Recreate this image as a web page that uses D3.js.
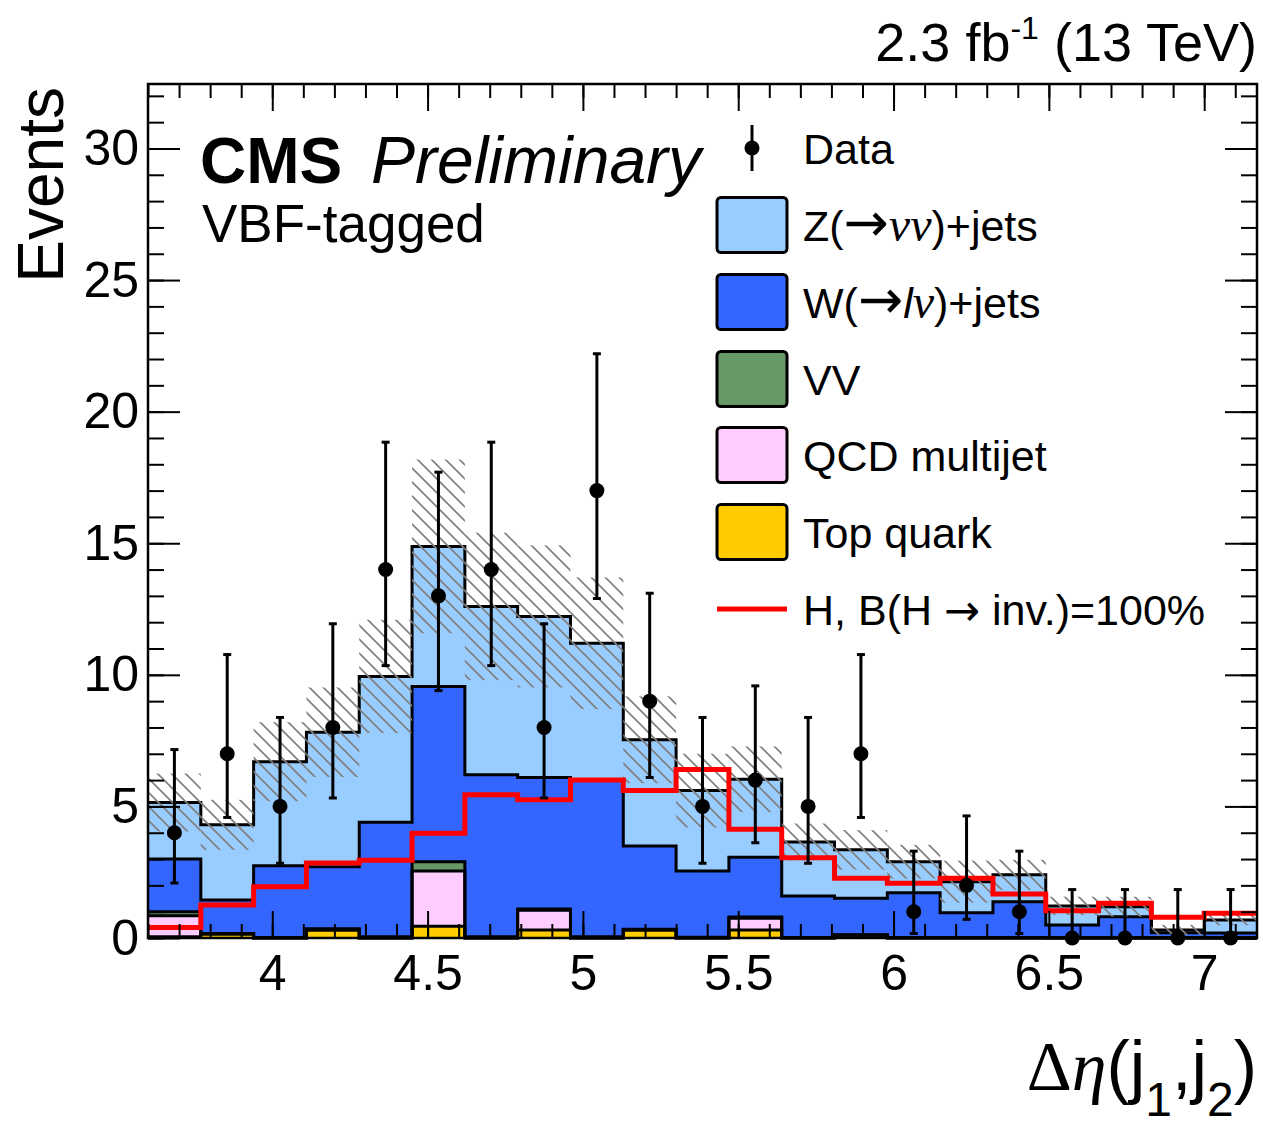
<!DOCTYPE html>
<html>
<head>
<meta charset="utf-8">
<script src="https://cdn.jsdelivr.net/npm/d3@7"></script>
<style>
  body { margin: 0; background: #fff; }
  text { font-family: "Liberation Sans", Arial, Helvetica, sans-serif; fill: #000; }
</style>
</head>
<body>
<div id="chart"></div>
<script>
// bin edges of delta eta(j1,j2)
const edges = [3.60, 3.77, 3.94, 4.11, 4.28, 4.45, 4.62, 4.79, 4.96, 5.13, 5.30,
  5.47, 5.64, 5.81, 5.98, 6.15, 6.32, 6.49, 6.66, 6.83, 7.00, 7.17];

// backgrounds, bottom of the stack first
const topQuark = [0.05, 0.15, 0, 0.3, 0, 0.45, 0, 0.3, 0, 0.3, 0, 0.3, 0, 0.1, 0, 0, 0, 0, 0, 0, 0];
const qcd = [0.8, 0, 0, 0, 0, 2.1, 0, 0.75, 0, 0, 0, 0.45, 0, 0, 0, 0, 0, 0, 0, 0, 0];
const vv = [0.15, 0.02, 0.02, 0.05, 0.05, 0.35, 0.05, 0.05, 0.05, 0.03, 0.03, 0.05, 0.02, 0.02, 0.02, 0.02, 0.02, 0.01, 0.01, 0.01, 0.01];
const wJets = [2.0, 1.27, 2.73, 2.36, 4.35, 6.66, 6.15, 5.0, 5.95, 3.17, 2.52, 2.27, 1.58, 1.39, 1.70, 0.94, 1.36, 0.48, 0.80, 0.19, 0.18];
const zJets = [2.15, 2.86, 3.95, 5.11, 5.54, 5.32, 6.4, 6.12, 5.2, 4.03, 3.05, 2.96, 2.05, 1.84, 1.18, 1.18, 1.02, 0.73, 0.38, 0.10, 0.49];
// total background uncertainty
const bkgUnc = [1.1, 0.95, 1.5, 1.7, 2.15, 3.3, 2.8, 2.7, 2.5, 1.65, 1.4, 1.25, 0.7, 0.75, 0.64, 0.8, 0.57, 0.35, 0.38, 0.2, 0.2];

// signal H -> inv
const signal = [0.4, 1.25, 1.95, 2.85, 2.95, 3.98, 5.44, 5.25, 6.0, 5.6, 6.4, 4.13, 3.05, 2.27, 2.08, 2.27, 1.67, 1.04, 1.32, 0.79, 0.94];

// data with error bar ends
const dataCounts = [4, 7, 5, 8, 14, 13, 14, 8, 17, 9, 5, 6, 5, 7, 1, 2, 1, 0, 0, 0, 0];
const dataLow = [2.09, 4.58, 2.84, 5.32, 10.35, 9.4, 10.35, 5.32, 12.9, 6.1, 2.84, 3.62, 2.84, 4.58, 0.17, 0.71, 0.17, 0, 0, 0, 0];
const dataHigh = [7.16, 10.77, 8.38, 11.94, 18.84, 17.7, 18.84, 11.94, 22.2, 13.1, 8.38, 9.58, 8.38, 10.77, 3.3, 4.64, 3.3, 1.84, 1.84, 1.84, 1.84];

const xTicks = [4, 4.5, 5, 5.5, 6, 6.5, 7];
const yTicks = [0, 5, 10, 15, 20, 25, 30];

const layers = [
  { key: "top", values: topQuark, color: "#ffcc00", label: "Top quark" },
  { key: "qcd", values: qcd, color: "#ffccff", label: "QCD multijet" },
  { key: "vv", values: vv, color: "#669966", label: "VV" },
  { key: "w", values: wJets, color: "#3366ff", label: "W" },
  { key: "z", values: zJets, color: "#99ccff", label: "Z" }
];

const width = 1263, height = 1129;
const pLeft = 148, pRight = 1257, pTop = 84, pBottom = 938;

const svg = d3.select("#chart").append("svg")
  .attr("width", width)
  .attr("height", height)
  .style("background", "#fff");

const defs = svg.append("defs");
defs.append("pattern")
  .attr("id", "hatch")
  .attr("patternUnits", "userSpaceOnUse")
  .attr("width", 14).attr("height", 14)
  .append("path")
  .attr("d", "M0,0 L14,14 M-7,7 L7,21 M7,-7 L21,7")
  .attr("stroke", "#808080")
  .attr("stroke-width", 1.7);

const x = d3.scaleLinear().domain([3.6, 7.17]).range([pLeft, pRight]);
const y = d3.scaleLinear().domain([0, 32.45]).range([pBottom, pTop]);

// build a table for d3.stack
const rows = edges.slice(0, -1).map((e, i) => {
  const r = { i };
  layers.forEach(l => r[l.key] = l.values[i]);
  return r;
});
const stacked = d3.stack().keys(layers.map(l => l.key))(rows);

// step points for a per-bin array
const stepPts = (vals) => vals.flatMap((v, i) => [[edges[i], v], [edges[i + 1], v]]);

const area = d3.area()
  .x(d => x(d.x))
  .y0(d => y(d.y0))
  .y1(d => y(d.y1));
const line = d3.line().x(d => x(d[0])).y(d => y(d[1]));

// fills
stacked.forEach((s, k) => {
  const pts = s.flatMap((d, i) => [
    { x: edges[i], y0: d[0], y1: d[1] },
    { x: edges[i + 1], y0: d[0], y1: d[1] }
  ]);
  svg.append("path")
    .attr("d", area(pts))
    .attr("fill", layers[k].color)
    .attr("stroke", "none");
});

// outlines of every stack level
stacked.forEach(s => {
  svg.append("path")
    .attr("d", line(stepPts(s.map(d => d[1]))))
    .attr("fill", "none")
    .attr("stroke", "#000")
    .attr("stroke-width", 3);
});

// uncertainty band
const totals = stacked[stacked.length - 1].map(d => d[1]);
svg.append("g").selectAll("rect")
  .data(totals)
  .join("rect")
  .attr("x", (d, i) => x(edges[i]))
  .attr("width", (d, i) => x(edges[i + 1]) - x(edges[i]))
  .attr("y", (d, i) => y(d + bkgUnc[i]))
  .attr("height", (d, i) => y(Math.max(0, d - bkgUnc[i])) - y(d + bkgUnc[i]))
  .attr("fill", "url(#hatch)");

// signal
svg.append("path")
  .attr("d", line(stepPts(signal)))
  .attr("fill", "none")
  .attr("stroke", "#ff0000")
  .attr("stroke-width", 5);

// data points
const centers = dataCounts.map((d, i) => (edges[i] + edges[i + 1]) / 2);
const dg = svg.append("g");
dg.selectAll("line.err")
  .data(dataCounts)
  .join("line")
  .attr("class", "err")
  .attr("x1", (d, i) => x(centers[i])).attr("x2", (d, i) => x(centers[i]))
  .attr("y1", (d, i) => y(dataLow[i])).attr("y2", (d, i) => y(dataHigh[i]))
  .attr("stroke", "#000").attr("stroke-width", 3);
["low", "high"].forEach(end => {
  dg.selectAll("line.cap-" + end)
    .data(dataCounts)
    .join("line")
    .attr("class", "cap-" + end)
    .attr("x1", (d, i) => x(centers[i]) - 4).attr("x2", (d, i) => x(centers[i]) + 4)
    .attr("y1", (d, i) => y(end === "low" ? dataLow[i] : dataHigh[i]))
    .attr("y2", (d, i) => y(end === "low" ? dataLow[i] : dataHigh[i]))
    .attr("stroke", "#000").attr("stroke-width", 3)
    .attr("opacity", (d, i) => end === "low" && dataLow[i] === 0 ? 0 : 1);
});
dg.selectAll("circle")
  .data(dataCounts)
  .join("circle")
  .attr("cx", (d, i) => x(centers[i]))
  .attr("cy", d => y(d))
  .attr("r", 7.5)
  .attr("fill", "#000");

// axes, ROOT style ticks on all four sides
const styleAxis = g => {
  g.select(".domain").remove();
  g.selectAll(".tick line").attr("stroke", "#000").attr("stroke-width", 2);
  g.selectAll(".tick text").attr("font-size", 50).attr("fill", "#000")
    .style("font-family", '"Liberation Sans", Arial, sans-serif');
};
const xMinor = d3.range(3.6, 7.17, 0.1);
const yMinor = d3.range(0, 33, 1);

svg.append("g").attr("transform", `translate(0,${pBottom})`)
  .call(d3.axisBottom(x).tickValues(xMinor).tickSize(-14).tickFormat("")).call(styleAxis);
svg.append("g").attr("transform", `translate(0,${pBottom})`)
  .call(d3.axisBottom(x).tickValues(xTicks).tickSize(-27).tickPadding(16).tickFormat(d3.format("~g"))).call(styleAxis);
svg.append("g").attr("transform", `translate(0,${pTop})`)
  .call(d3.axisTop(x).tickValues(xMinor).tickSize(-14).tickFormat("")).call(styleAxis);
svg.append("g").attr("transform", `translate(0,${pTop})`)
  .call(d3.axisTop(x).tickValues(xTicks).tickSize(-27).tickFormat("")).call(styleAxis);

svg.append("g").attr("transform", `translate(${pLeft},0)`)
  .call(d3.axisLeft(y).tickValues(yMinor).tickSize(-16).tickFormat("")).call(styleAxis);
svg.append("g").attr("transform", `translate(${pLeft},0)`)
  .call(d3.axisLeft(y).tickValues(yTicks).tickSize(-32).tickPadding(9).tickFormat(d3.format("d"))).call(styleAxis);
svg.append("g").attr("transform", `translate(${pRight},0)`)
  .call(d3.axisRight(y).tickValues(yMinor).tickSize(-16).tickFormat("")).call(styleAxis);
svg.append("g").attr("transform", `translate(${pRight},0)`)
  .call(d3.axisRight(y).tickValues(yTicks).tickSize(-32).tickFormat("")).call(styleAxis);

// frame
svg.append("rect")
  .attr("x", pLeft).attr("y", pTop)
  .attr("width", pRight - pLeft).attr("height", pBottom - pTop)
  .attr("fill", "none").attr("stroke", "#000").attr("stroke-width", 2.5);

// axis titles
svg.append("text")
  .attr("transform", `translate(63,87) rotate(-90)`)
  .attr("text-anchor", "end")
  .attr("font-size", 64)
  .text("Events");

const serif = '"Liberation Serif", "DejaVu Serif", serif';
const arrowFont = '"DejaVu Sans", sans-serif';
const xt = svg.append("text")
  .attr("x", pRight).attr("y", 1090)
  .attr("text-anchor", "end")
  .attr("font-size", 70);
xt.append("tspan").style("font-family", serif).text("Δ");
xt.append("tspan").style("font-family", serif).attr("font-style", "italic").text("η");
xt.append("tspan").text("(j");
xt.append("tspan").attr("font-size", 48).attr("dy", 26).text("1");
xt.append("tspan").attr("dy", -26).text(",j");
xt.append("tspan").attr("font-size", 48).attr("dy", 26).text("2");
xt.append("tspan").attr("dy", -26).text(")");

// lumi label
const lumi = svg.append("text")
  .attr("x", pRight).attr("y", 61)
  .attr("text-anchor", "end")
  .attr("font-size", 54);
lumi.append("tspan").text("2.3 fb");
lumi.append("tspan").attr("font-size", 32).attr("dy", -22).text("-1");
lumi.append("tspan").attr("dy", 22).text(" (13 TeV)");

// CMS label
svg.append("text").attr("x", 200).attr("y", 183)
  .attr("font-size", 64).attr("font-weight", "bold").text("CMS");
svg.append("text").attr("x", 371).attr("y", 183)
  .attr("font-size", 66).attr("font-style", "italic").text("Preliminary");
svg.append("text").attr("x", 202).attr("y", 242)
  .attr("font-size", 53).text("VBF-tagged");

// legend
const leg = svg.append("g");
const rowY = [148, 225, 302, 379, 455, 532, 609];
const boxX = 717, boxW = 70, boxH = 55, textX = 803;

leg.append("line").attr("x1", 752).attr("x2", 752).attr("y1", 125).attr("y2", 171)
  .attr("stroke", "#000").attr("stroke-width", 3);
leg.append("circle").attr("cx", 752).attr("cy", rowY[0]).attr("r", 7.5).attr("fill", "#000");
leg.append("text").attr("x", textX).attr("y", rowY[0] + 16).attr("font-size", 43).text("Data");

const boxEntries = [layers[4], layers[3], layers[2], layers[1], layers[0]];
boxEntries.forEach((l, k) => {
  leg.append("rect")
    .attr("x", boxX).attr("y", rowY[k + 1] - boxH / 2)
    .attr("width", boxW).attr("height", boxH)
    .attr("rx", 4)
    .attr("fill", l.color).attr("stroke", "#000").attr("stroke-width", 3);
});

const lt = (k) => leg.append("text").attr("x", textX).attr("y", rowY[k] + 16).attr("font-size", 43);
const zt = lt(1);
zt.append("tspan").text("Z(");
zt.append("tspan").style("font-family", arrowFont).attr("font-size", 54).text("→");
zt.append("tspan").style("font-family", serif).attr("font-style", "italic").attr("font-size", 48).text("νν");
zt.append("tspan").text(")+jets");
const wt = lt(2);
wt.append("tspan").text("W(");
wt.append("tspan").style("font-family", arrowFont).attr("font-size", 54).text("→");
wt.append("tspan").attr("font-style", "italic").text("l");
wt.append("tspan").style("font-family", serif).attr("font-style", "italic").attr("font-size", 48).text("ν");
wt.append("tspan").text(")+jets");
lt(3).text("VV");
lt(4).text("QCD multijet");
lt(5).text("Top quark");

leg.append("line").attr("x1", boxX).attr("x2", boxX + boxW)
  .attr("y1", rowY[6]).attr("y2", rowY[6])
  .attr("stroke", "#ff0000").attr("stroke-width", 5);
const ht = lt(6);
ht.append("tspan").text("H, B(H ");
ht.append("tspan").style("font-family", arrowFont).text("→");
ht.append("tspan").text(" inv.)=100%");
</script>
</body>
</html>
